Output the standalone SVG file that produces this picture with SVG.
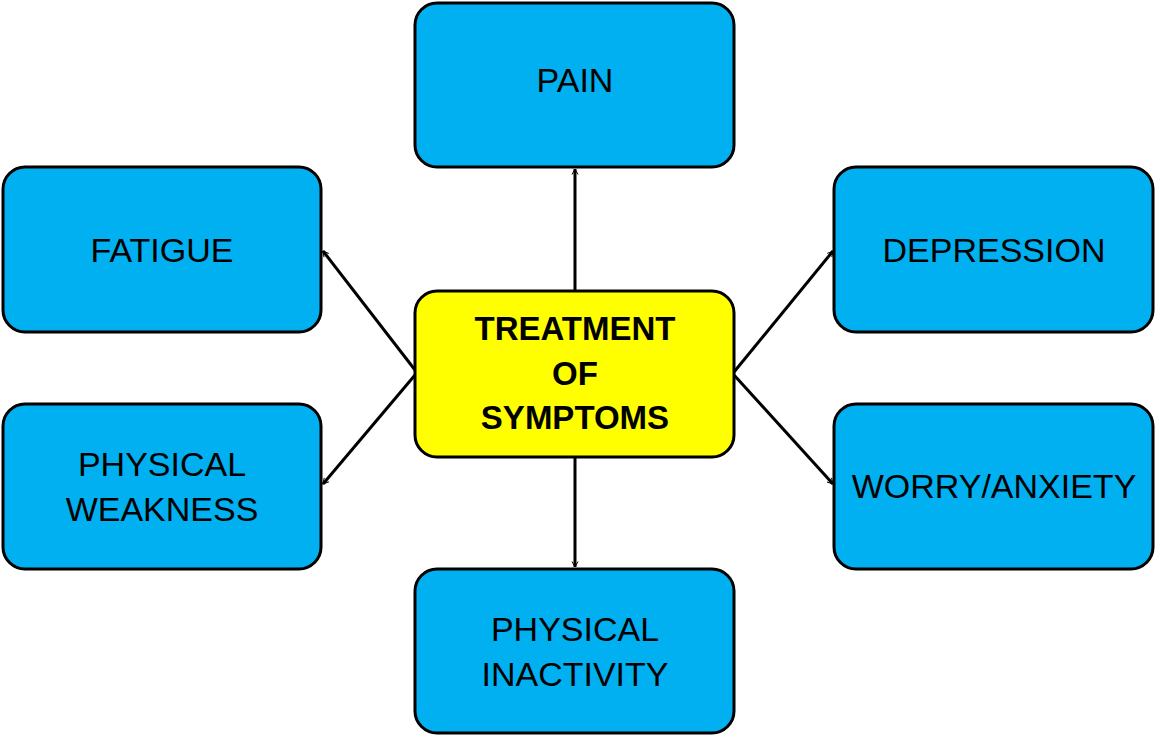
<svg xmlns="http://www.w3.org/2000/svg" width="1176" height="736" viewBox="0 0 1176 736">
<style>
.b{fill:#00B0F0;stroke:#000;stroke-width:3}
.c{fill:#FFFF00;stroke:#000;stroke-width:3}
text{font-family:"Liberation Sans",Arial,sans-serif;font-size:34px;fill:#000;text-anchor:middle}
.t{font-weight:bold;font-size:33px}
#conn line{stroke:#000;stroke-width:3;marker-end:url(#a)}
</style>
<defs><marker id="a" viewBox="0 0 12 12" refX="11" refY="6" markerWidth="6" markerHeight="6" orient="auto" markerUnits="userSpaceOnUse" overflow="visible"><path d="M0,0 L11,6 L0,12" fill="none" stroke="#000" stroke-width="2"/></marker></defs>
<rect width="1176" height="736" fill="#fff"/>
<g id="conn">
<line x1="575" y1="291" x2="575" y2="169"/>
<line x1="575" y1="457" x2="575" y2="567"/>
<line x1="415" y1="370" x2="323" y2="251"/>
<line x1="415" y1="375" x2="323" y2="484"/>
<line x1="734" y1="372" x2="833" y2="251"/>
<line x1="734" y1="375" x2="833" y2="484"/>
</g>
<g id="pain"><rect class="b" x="415" y="3" width="319" height="164" rx="22"/><text x="575" y="92">PAIN</text></g>
<g id="fatigue"><rect class="b" x="3" y="167" width="318" height="165" rx="22"/><text x="162" y="262">FATIGUE</text></g>
<g id="weakness"><rect class="b" x="3" y="404" width="318" height="165" rx="22"/><text x="162" y="476">PHYSICAL</text><text x="162" y="521">WEAKNESS</text></g>
<g id="depression"><rect class="b" x="834" y="167" width="319" height="165" rx="22"/><text x="994" y="262">DEPRESSION</text></g>
<g id="worry"><rect class="b" x="834" y="404" width="319" height="165" rx="22"/><text x="994" y="498">WORRY/ANXIETY</text></g>
<g id="inactivity"><rect class="b" x="415" y="569" width="319" height="164" rx="22"/><text x="575" y="641">PHYSICAL</text><text x="575" y="686">INACTIVITY</text></g>
<g id="center"><rect class="c" x="415" y="291" width="319" height="166" rx="22"/><text class="t" x="575" y="340">TREATMENT</text><text class="t" x="575" y="385">OF</text><text class="t" x="575" y="429">SYMPTOMS</text></g>
</svg>
